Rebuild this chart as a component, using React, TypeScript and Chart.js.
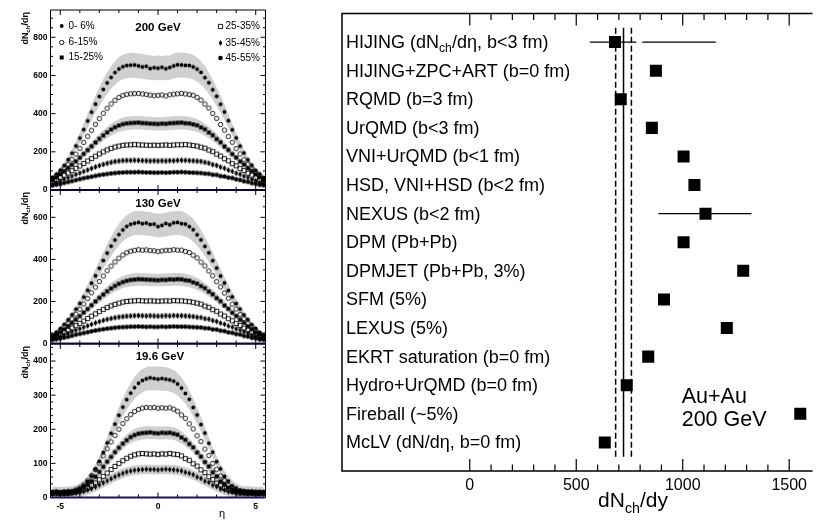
import React, { useEffect, useRef } from 'react';
import { Chart, registerables } from 'chart.js';
Chart.register(...registerables);

const FONT = '"Liberation Sans", Arial, Helvetica, sans-serif';
const BAND = 'rgb(208,208,208)';

// ---------------- DATA (left: dNch/deta vs eta) ----------------
const ETA = [-5.4, -5.2, -5.0, -4.8, -4.6, -4.4, -4.2, -4.0, -3.8, -3.6, -3.4, -3.2, -3.0, -2.8, -2.6, -2.4, -2.2, -2.0, -1.8, -1.6, -1.4, -1.2, -1.0, -0.8, -0.6, -0.4, -0.2, 0, 0.2, 0.4, 0.6, 0.8, 1.0, 1.2, 1.4, 1.6, 1.8, 2.0, 2.2, 2.4, 2.6, 2.8, 3.0, 3.2, 3.4, 3.6, 3.8, 4.0, 4.2, 4.4, 4.6, 4.8, 5.0, 5.2, 5.4];
const CENTRALITY = ['0- 6%', '6-15%', '15-25%', '25-35%', '35-45%', '45-55%'];

const GEV200_C0 = [66, 83, 104, 129, 159, 193, 231, 272, 316, 362, 408, 450, 490, 527, 561, 590, 615, 634, 646, 652, 654, 655, 650, 645, 648, 636, 641, 638, 643, 635, 642, 650, 656, 655, 653, 652, 645, 633, 616, 589, 562, 525, 491, 449, 409, 363, 315, 273, 230, 194, 158, 130, 103, 84, 65];
const GEV200_C1 = [58, 74, 91, 111, 134, 160, 188, 218, 249, 281, 313, 344, 374, 402, 428, 451, 470, 485, 495, 501, 504, 505, 506, 503, 500, 497, 494, 496, 498, 493, 499, 502, 504, 506, 503, 500, 496, 485, 471, 450, 429, 401, 375, 343, 314, 280, 250, 217, 189, 159, 135, 110, 92, 73, 57];
const GEV200_C2 = [52, 66, 84, 99, 115, 132, 150, 169, 189, 209, 229, 249, 268, 286, 302, 317, 329, 338, 345, 349, 351, 352, 353, 351, 350, 348, 347, 346, 348, 347, 350, 351, 352, 353, 350, 349, 344, 339, 328, 318, 301, 287, 267, 250, 228, 210, 188, 170, 149, 133, 114, 100, 83, 67, 51];
const GEV200_C3 = [42, 53, 65, 77, 89, 101, 113, 126, 139, 152, 165, 177, 189, 200, 210, 218, 225, 230, 234, 236, 237, 238, 237, 236, 235, 234, 235, 234, 235, 236, 234, 236, 237, 237, 238, 236, 233, 230, 224, 219, 209, 201, 188, 178, 164, 153, 138, 127, 112, 102, 88, 78, 64, 54, 41];
const GEV200_C4 = [32, 39, 47, 56, 64, 73, 81, 89, 97, 105, 113, 121, 128, 134, 140, 145, 149, 152, 154, 155, 155, 156, 155, 154, 153, 152, 153, 152, 153, 152, 154, 153, 155, 156, 155, 154, 153, 151, 150, 145, 141, 133, 129, 120, 114, 104, 98, 88, 82, 72, 65, 55, 48, 38, 33];
const GEV200_C5 = [24, 28, 32, 37, 42, 47, 52, 57, 62, 66, 70, 74, 78, 81, 84, 87, 89, 91, 92, 93, 93, 93, 94, 93, 92, 92, 91, 91, 92, 91, 92, 93, 93, 94, 93, 92, 91, 90, 89, 86, 85, 80, 79, 73, 71, 65, 63, 56, 53, 46, 43, 36, 33, 27, 25];

const GEV130_C0 = [40, 54, 71, 91, 113, 137, 163, 191, 221, 253, 287, 322, 358, 395, 430, 463, 492, 518, 540, 557, 567, 572, 576, 570, 573, 566, 568, 556, 562, 571, 565, 574, 576, 570, 568, 556, 541, 517, 493, 462, 431, 394, 359, 321, 288, 252, 222, 190, 164, 136, 114, 90, 72, 53, 41];
const GEV130_C1 = [35, 46, 61, 78, 96, 117, 139, 163, 188, 214, 241, 268, 295, 321, 346, 368, 388, 406, 421, 432, 439, 443, 446, 444, 445, 442, 441, 437, 440, 443, 443, 446, 444, 444, 438, 433, 420, 407, 387, 369, 345, 322, 294, 269, 240, 215, 187, 164, 138, 118, 95, 79, 60, 47, 34];
const GEV130_C2 = [32, 42, 54, 68, 83, 98, 114, 130, 147, 164, 182, 200, 217, 233, 248, 262, 274, 284, 292, 298, 302, 304, 306, 305, 304, 303, 302, 301, 303, 302, 305, 304, 306, 305, 301, 299, 291, 285, 273, 263, 247, 234, 216, 201, 181, 165, 146, 131, 113, 99, 82, 69, 53, 43, 31];
const GEV130_C3 = [28, 35, 43, 53, 63, 74, 85, 96, 107, 119, 130, 141, 152, 162, 171, 179, 186, 192, 197, 200, 202, 203, 204, 203, 202, 203, 202, 201, 202, 203, 202, 204, 203, 203, 201, 199, 196, 192, 187, 178, 172, 161, 153, 140, 131, 118, 108, 95, 86, 73, 64, 52, 44, 34, 29];
const GEV130_C4 = [22, 28, 34, 41, 48, 56, 63, 70, 77, 84, 91, 98, 104, 110, 115, 119, 123, 126, 128, 130, 131, 132, 133, 132, 131, 132, 131, 130, 131, 132, 131, 133, 132, 132, 131, 130, 128, 125, 124, 118, 116, 109, 105, 97, 92, 83, 78, 69, 64, 55, 49, 40, 35, 27, 23];
const GEV130_C5 = [17, 20, 24, 28, 32, 37, 42, 46, 50, 54, 58, 62, 65, 68, 71, 73, 75, 77, 78, 79, 80, 80, 81, 80, 79, 80, 79, 79, 80, 79, 80, 81, 80, 80, 80, 79, 78, 77, 76, 73, 72, 67, 66, 61, 59, 53, 51, 45, 43, 36, 33, 27, 25, 19, 18];

const GEV19_C0 = [17, 18, 16, 18, 19, 18, 22, 27, 35, 47, 63, 83, 106, 132, 160, 188, 215, 241, 265, 287, 306, 322, 335, 343, 348, 351, 349, 347, 349, 347, 345, 341, 333, 321, 305, 288, 264, 242, 214, 189, 159, 133, 105, 84, 62, 48, 34, 28, 21, 20, 17, 19, 16, 18, 17];
const GEV19_C1 = [15, 16, 15, 16, 17, 18, 22, 28, 37, 49, 64, 82, 101, 122, 143, 163, 182, 200, 217, 231, 243, 252, 258, 262, 264, 263, 264, 262, 263, 262, 263, 259, 253, 242, 232, 216, 201, 181, 164, 142, 123, 100, 83, 63, 50, 36, 29, 21, 20, 16, 17, 15, 16, 14, 15];
const GEV19_C2 = [14, 15, 13, 15, 14, 16, 19, 23, 30, 38, 48, 61, 75, 90, 105, 119, 133, 146, 158, 168, 177, 183, 187, 189, 190, 191, 189, 188, 190, 189, 190, 187, 184, 176, 169, 157, 147, 132, 120, 104, 91, 74, 62, 47, 39, 29, 24, 18, 18, 14, 16, 13, 15, 13, 14];
const GEV19_C3 = [12, 13, 11, 13, 12, 14, 16, 19, 23, 28, 35, 43, 52, 62, 72, 82, 91, 100, 108, 115, 121, 125, 128, 129, 128, 127, 128, 126, 128, 127, 129, 127, 126, 122, 114, 109, 99, 92, 81, 73, 61, 53, 42, 36, 27, 24, 18, 17, 13, 14, 12, 13, 11, 12, 13];
const GEV19_C4 = [10, 11, 10, 9, 11, 12, 13, 15, 18, 22, 26, 31, 37, 43, 49, 55, 61, 66, 71, 75, 78, 80, 81, 82, 83, 82, 82, 81, 82, 83, 82, 81, 80, 78, 74, 71, 67, 60, 56, 48, 44, 36, 32, 25, 22, 17, 16, 12, 12, 11, 10, 11, 9, 10, 10];

// ---------------- DATA (right: model predictions dNch/dy) ----------------
const MODELS = [
  'HIJING (dN_{ch}/dη, b<3 fm)',
  'HIJING+ZPC+ART (b=0 fm)',
  'RQMD (b=3 fm)',
  'UrQMD (b<3 fm)',
  'VNI+UrQMD (b<1 fm)',
  'HSD, VNI+HSD (b<2 fm)',
  'NEXUS (b<2 fm)',
  'DPM (Pb+Pb)',
  'DPMJET (Pb+Pb, 3%)',
  'SFM (5%)',
  'LEXUS (5%)',
  'EKRT saturation (b=0 fm)',
  'Hydro+UrQMD (b=0 fm)',
  'Fireball (~5%)',
  'McLV (dN/dη, b=0 fm)',
];
const MODEL_VALUES = [682, 874, 709, 855, 1004, 1055, 1107, 1004, 1284, 912, 1207, 838, 737, 1552, 634];
const MODEL_ERR_SEGMENTS = [[[564, 782], [810, 1155]], [], [], [], [], [], [[886, 1323]], [], [], [], [], [], [], [], []];
const DATA_MEAN = 722;
const DATA_LOW = 685;
const DATA_HIGH = 759;
const X_TICK_LABELS = [0, 500, 1000, 1500];

// ---------------- helpers ----------------
function drawRich(ctx, text, x, y, size, weight, align) {
  const segs = [];
  const re = /_\{([^}]*)\}/g;
  let last = 0;
  let m;
  while ((m = re.exec(text))) {
    if (m.index > last) segs.push({ t: text.slice(last, m.index), sub: false, w: 0 });
    segs.push({ t: m[1], sub: true, w: 0 });
    last = re.lastIndex;
  }
  if (last < text.length) segs.push({ t: text.slice(last), sub: false, w: 0 });
  const f = (s) => `${weight} ${s}px ${FONT}`;
  let total = 0;
  for (const s of segs) {
    ctx.font = f(s.sub ? size * 0.68 : size);
    s.w = ctx.measureText(s.t).width;
    total += s.w;
  }
  let cx = align === 'center' ? x - total / 2 : align === 'right' ? x - total : x;
  ctx.textAlign = 'left';
  for (const s of segs) {
    ctx.font = f(s.sub ? size * 0.68 : size);
    ctx.fillText(s.t, cx, s.sub ? y + size * 0.3 : y);
    cx += s.w;
  }
}

function drawMarker(ctx, kind, x, y) {
  ctx.save();
  ctx.fillStyle = '#000';
  ctx.strokeStyle = '#000';
  ctx.lineWidth = 0.9;
  ctx.beginPath();
  if (kind === 0) { ctx.arc(x, y, 1.9, 0, Math.PI * 2); ctx.fill(); }
  else if (kind === 1) { ctx.arc(x, y, 2.2, 0, Math.PI * 2); ctx.stroke(); }
  else if (kind === 2) { ctx.rect(x - 2, y - 2, 4, 4); ctx.fill(); }
  else if (kind === 3) { ctx.rect(x - 2.1, y - 2.1, 4.2, 4.2); ctx.stroke(); }
  else if (kind === 4) { ctx.moveTo(x, y - 3); ctx.lineTo(x + 1.8, y); ctx.lineTo(x, y + 3); ctx.lineTo(x - 1.8, y); ctx.closePath(); ctx.fill(); }
  else { ctx.arc(x, y, 2.3, 0, Math.PI * 2); ctx.fill(); }
  ctx.restore();
}

function markerCanvas(kind) {
  const c = document.createElement('canvas');
  c.width = 9; c.height = 9;
  drawMarker(c.getContext('2d'), kind, 4.5, 4.5);
  return c;
}

const BANDED = [0, 2, 4];

function panelConfig(p) {
  const datasets = [];
  BANDED.forEach((si) => {
    const v = p.series[si];
    if (!v) return;
    const sm = v.map((_, i) => (v[Math.max(0, i - 1)] + v[i] + v[Math.min(v.length - 1, i + 1)]) / 3);
    const err = sm.map((s) => Math.max(s * 0.1, p.bandMin));
    datasets.push({ type: 'line', data: ETA.map((e, i) => ({ x: e, y: Math.max(0, sm[i] - err[i]) })), borderWidth: 0, borderColor: 'rgba(0,0,0,0)', pointRadius: 0, fill: false, order: 10, tension: 0.4 });
    datasets.push({ type: 'line', data: ETA.map((e, i) => ({ x: e, y: sm[i] + err[i] })), borderWidth: 0, borderColor: 'rgba(0,0,0,0)', pointRadius: 0, fill: '-1', backgroundColor: BAND, order: 10, tension: 0.4 });
  });
  p.series.forEach((v, si) => {
    datasets.push({ type: 'line', showLine: false, data: ETA.map((e, i) => ({ x: e, y: v[i] })), pointStyle: markerCanvas(si), pointRadius: 3, order: 0 });
  });

  const deco = {
    id: 'panelDeco',
    afterDraw(chart) {
      const { ctx, chartArea: a, scales: { x, y } } = chart;
      ctx.save();
      ctx.strokeStyle = '#000';
      ctx.fillStyle = '#000';
      ctx.lineWidth = 1;
      ctx.beginPath();
      ctx.moveTo(a.left, a.bottom); ctx.lineTo(a.left, a.top); ctx.lineTo(a.right, a.top); ctx.lineTo(a.right, a.bottom);
      ctx.stroke();
      for (let v = 0; v <= p.yMax; v += p.yMinor) {
        const py = y.getPixelForValue(v);
        const major = v % p.yStep === 0;
        const len = major ? 5 : 2.5;
        ctx.beginPath();
        ctx.moveTo(a.left, py); ctx.lineTo(a.left + len, py);
        ctx.moveTo(a.right, py); ctx.lineTo(a.right - len, py);
        ctx.stroke();
        if (major) {
          ctx.font = `bold 8.5px ${FONT}`;
          ctx.textAlign = 'right';
          ctx.textBaseline = 'middle';
          ctx.fillText(String(v), a.left - 3, py);
        }
      }
      for (let e = -5; e <= 5; e += 1) {
        const px = x.getPixelForValue(e);
        const len = e % 5 === 0 ? 5 : 3;
        ctx.beginPath();
        ctx.moveTo(px, a.bottom); ctx.lineTo(px, a.bottom - len);
        ctx.moveTo(px, a.top); ctx.lineTo(px, a.top + len);
        ctx.stroke();
      }
      ctx.strokeStyle = '#15155a';
      ctx.lineWidth = 1.8;
      ctx.beginPath();
      ctx.moveTo(a.left, a.bottom); ctx.lineTo(a.right, a.bottom);
      ctx.stroke();
      ctx.fillStyle = '#000';
      ctx.font = `bold 11.5px ${FONT}`;
      ctx.textAlign = 'center';
      ctx.textBaseline = 'middle';
      ctx.fillText(p.title, p.titleX, a.top + p.titleDy);
      ctx.save();
      ctx.translate(26, a.top + 2);
      ctx.rotate(-Math.PI / 2);
      ctx.textBaseline = 'middle';
      drawRich(ctx, 'dN_{ch}/dη', 0, 0, 9, 'bold', 'right');
      ctx.restore();
      if (p.xLabels) {
        ctx.font = `bold 8.5px ${FONT}`;
        ctx.textAlign = 'center';
        ctx.textBaseline = 'middle';
        [-5, 0, 5].forEach((e) => ctx.fillText(String(e), x.getPixelForValue(e), a.bottom + 9));
        ctx.font = `11px ${FONT}`;
        ctx.fillText('η', 222, a.bottom + 16.5);
      }
      if (p.legend) {
        const rows = [26, 42.5, 57.5];
        ctx.font = `10px ${FONT}`;
        ctx.textAlign = 'left';
        ctx.textBaseline = 'middle';
        for (let i = 0; i < 3; i++) {
          drawMarker(ctx, i, 61.7, rows[i]);
          ctx.fillText(CENTRALITY[i], 68.5, rows[i]);
          drawMarker(ctx, i + 3, 220.5, rows[i] + 0.5);
          ctx.fillText(CENTRALITY[i + 3], 225.5, rows[i] + 0.5);
        }
      }
      ctx.restore();
    },
  };

  return {
    type: 'line',
    data: { datasets },
    options: {
      responsive: false,
      animation: false,
      devicePixelRatio: 1,
      events: [],
      layout: { padding: { left: 50.5, right: 300 - 265.5, top: p.top, bottom: 524 - p.bottom } },
      scales: {
        x: { type: 'linear', min: -5.5, max: 5.5, display: false },
        y: { type: 'linear', min: 0, max: p.yMax, display: false },
      },
      plugins: { legend: { display: false }, tooltip: { enabled: false } },
    },
    plugins: [deco],
  };
}

const rightDeco = {
  id: 'rightDeco',
  beforeDatasetsDraw(chart) {
    const { ctx, scales: { x, y } } = chart;
    ctx.save();
    ctx.strokeStyle = '#000';
    ctx.lineWidth = 1.5;
    const yTop = y.getPixelForValue(-0.5);
    const yBot = y.getPixelForValue(MODELS.length - 0.5);
    ctx.beginPath();
    ctx.moveTo(x.getPixelForValue(DATA_MEAN), yTop);
    ctx.lineTo(x.getPixelForValue(DATA_MEAN), yBot);
    ctx.stroke();
    ctx.setLineDash([6, 3]);
    [DATA_LOW, DATA_HIGH].forEach((v) => {
      ctx.beginPath();
      ctx.moveTo(x.getPixelForValue(v), yTop);
      ctx.lineTo(x.getPixelForValue(v), yBot);
      ctx.stroke();
    });
    ctx.setLineDash([]);
    ctx.lineWidth = 1.4;
    MODEL_ERR_SEGMENTS.forEach((segs, i) => {
      segs.forEach(([lo, hi]) => {
        const py = y.getPixelForValue(i);
        ctx.beginPath();
        ctx.moveTo(x.getPixelForValue(lo), py);
        ctx.lineTo(x.getPixelForValue(hi), py);
        ctx.stroke();
      });
    });
    ctx.restore();
  },
  afterDraw(chart) {
    const { ctx, chartArea: a, scales: { x, y } } = chart;
    ctx.save();
    ctx.strokeStyle = '#000';
    ctx.fillStyle = '#000';
    ctx.lineWidth = 1.5;
    ctx.beginPath();
    ctx.moveTo(a.right + 2, a.top); ctx.lineTo(a.left, a.top); ctx.lineTo(a.left, a.bottom); ctx.lineTo(a.right + 2, a.bottom);
    ctx.stroke();
    ctx.lineWidth = 1.2;
    for (let v = 0; v <= 1500; v += 100) {
      const px = x.getPixelForValue(v);
      const len = v % 500 === 0 ? 12 : 6.5;
      ctx.beginPath();
      ctx.moveTo(px, a.bottom); ctx.lineTo(px, a.bottom - len);
      ctx.moveTo(px, a.top); ctx.lineTo(px, a.top + len);
      ctx.stroke();
    }
    ctx.font = `16px ${FONT}`;
    ctx.textAlign = 'center';
    ctx.textBaseline = 'middle';
    X_TICK_LABELS.forEach((v) => ctx.fillText(String(v), x.getPixelForValue(v), a.bottom + 15));
    ctx.textBaseline = 'alphabetic';
    drawRich(ctx, 'dN_{ch}/dy', 333, a.bottom + 36, 21, 'normal', 'center');
    ctx.textBaseline = 'middle';
    MODELS.forEach((m, i) => drawRich(ctx, m, a.left + 4, y.getPixelForValue(i) + 1, 18, 'normal', 'left'));
    ctx.textBaseline = 'alphabetic';
    ctx.font = `21.5px ${FONT}`;
    ctx.textAlign = 'left';
    ctx.fillText('Au+Au', 381.7, 403);
    ctx.fillText('200 GeV', 381.7, 425.7);
    ctx.restore();
  },
};

function rightConfig() {
  return {
    type: 'scatter',
    data: {
      datasets: [{
        data: MODEL_VALUES.map((v, i) => ({ x: v, y: i })),
        pointStyle: 'rect',
        pointRadius: 8.5,
        backgroundColor: '#000',
        borderWidth: 0,
      }],
    },
    options: {
      responsive: false,
      animation: false,
      devicePixelRatio: 1,
      events: [],
      layout: { padding: { left: 42, right: 0, top: 13.5, bottom: 53 } },
      scales: {
        x: { type: 'linear', min: -600, max: 1600, display: false },
        y: { type: 'linear', min: -1, max: 15, reverse: true, display: false },
      },
      plugins: { legend: { display: false }, tooltip: { enabled: false } },
    },
    plugins: [rightDeco],
  };
}

const PANELS = [
  { title: '200 GeV', series: [GEV200_C0, GEV200_C1, GEV200_C2, GEV200_C3, GEV200_C4, GEV200_C5], yMax: 943, yStep: 200, yMinor: 50, top: 10, bottom: 190, bandMin: 6, xLabels: false, legend: true, titleX: 158, titleDy: 17.5 },
  { title: '130 GeV', series: [GEV130_C0, GEV130_C1, GEV130_C2, GEV130_C3, GEV130_C4, GEV130_C5], yMax: 730, yStep: 200, yMinor: 50, top: 190, bottom: 343.5, bandMin: 6, xLabels: false, legend: false, titleX: 158, titleDy: 13.5 },
  { title: '19.6 GeV', series: [GEV19_C0, GEV19_C1, GEV19_C2, GEV19_C3, GEV19_C4], yMax: 450, yStep: 100, yMinor: 20, top: 344, bottom: 497.5, bandMin: 14, xLabels: true, legend: false, titleX: 160, titleDy: 12.5 },
];

function ChartCanvas({ make, left, top, width, height }) {
  const ref = useRef(null);
  useEffect(() => {
    const chart = new Chart(ref.current, make());
    return () => chart.destroy();
  }, []);
  return <canvas ref={ref} width={width} height={height} style={{ position: 'absolute', left, top, width, height }} />;
}

export default function App() {
  return (
    <div style={{ position: 'absolute', left: 0, top: 0, width: 819, height: 524, background: '#fff', overflow: 'hidden' }}>
      {PANELS.map((p, i) => (
        <ChartCanvas key={i} make={() => panelConfig(p)} left={0} top={0} width={300} height={524} />
      ))}
      <ChartCanvas make={rightConfig} left={300} top={0} width={519} height={524} />
    </div>
  );
}
